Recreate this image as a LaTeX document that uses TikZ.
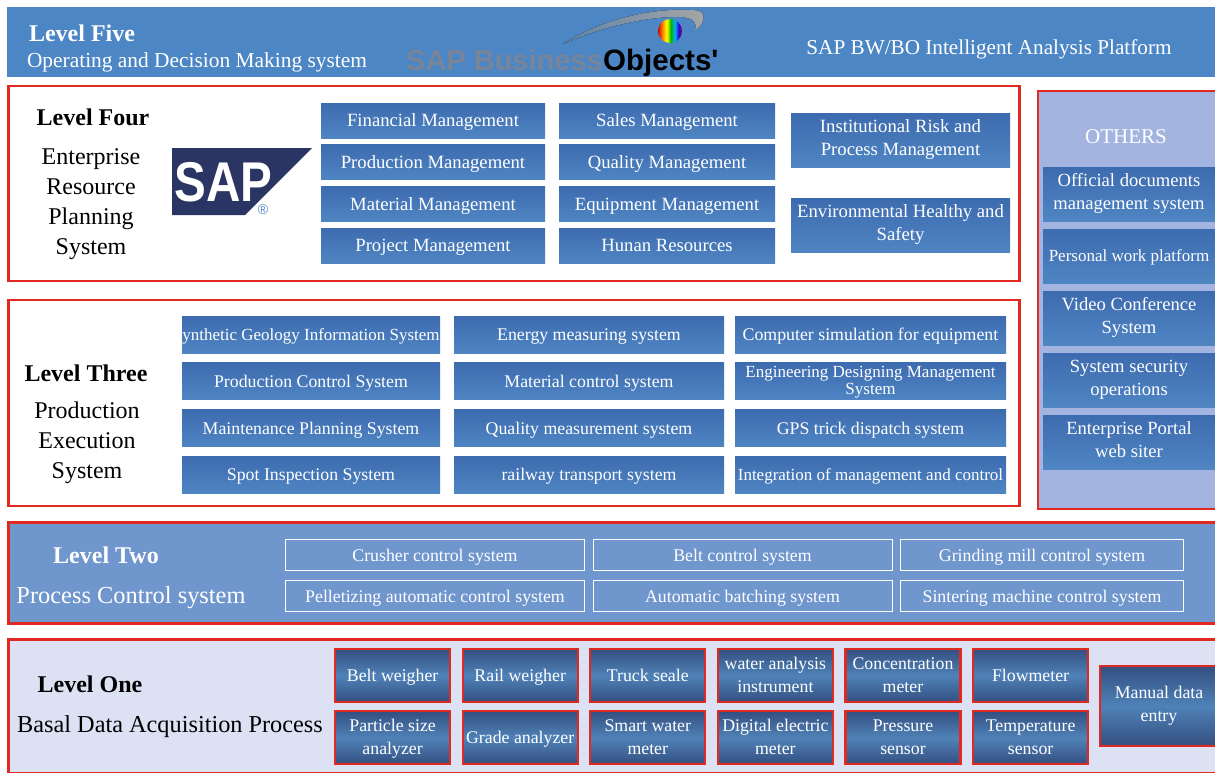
\documentclass[tikz,border=0pt]{standalone}
\usepackage{fontspec}
\setmainfont{Liberation Serif}
\newfontfamily\logofont{Liberation Sans}
\usetikzlibrary{matrix, positioning}
\definecolor{framered}{HTML}{E0291F}
\definecolor{bandblue}{HTML}{4C86C4}
\definecolor{ctrlblue}{HTML}{7096CE}
\definecolor{basepale}{HTML}{DCE1F3}
\definecolor{otherpale}{HTML}{A3B4E0}
\definecolor{boxtop}{HTML}{3D6BAF}
\definecolor{boxbottom}{HTML}{4F85C3}
\definecolor{fieldtop}{HTML}{344F80}
\definecolor{fieldmid}{HTML}{4F82B8}
\definecolor{sapnavy}{HTML}{2B3563}
\definecolor{sapgrey}{HTML}{788499}
\newcommand{\sz}[1]{\fontsize{#1}{23.5}\selectfont}
\newcommand{\twolines}[3][7pt]{\raisebox{0pt}[#1][0pt]{\begin{tabular}{@{}c@{}}#2\\#3\end{tabular}}}
\pgfdeclarehorizontalshading{rainbowball}{100bp}{
  color(0bp)=(red!80!black); color(25bp)=(red!80!black); color(34bp)=(orange);
  color(43bp)=(yellow); color(52bp)=(green!70!black); color(60bp)=(cyan!70!blue);
  color(68bp)=(blue!60!violet); color(75bp)=(violet); color(100bp)=(violet)}
\tikzset{
  %outer frames
  levelframe/.style={
    draw=framered
    , line width=2.8pt
    , anchor=north west
    , outer sep=0pt
    , inner sep=0pt
  },
  %blue boxes of levels three and four
  sysbox/.style={
    top color=boxtop
    , bottom color=boxbottom
    , text=white
    , text depth=0pt
    , anchor=center
    , inner sep=0pt
    , outer sep=0pt
  },
  %white outlined boxes of level two
  ctrlbox/.style={
    draw=white
    , line width=1pt
    , text=white
    , text depth=0pt
    , anchor=center
    , inner sep=0pt
    , outer sep=0pt
    , minimum height=31pt
    , font=\sz{17.8}
  },
  %red outlined boxes of level one
  fieldbox/.style={
    draw=framered
    , line width=2.2pt
    , top color=fieldtop
    , bottom color=fieldtop
    , middle color=fieldmid
    , text=white
    , text depth=0pt
    , anchor=center
    , inner sep=0pt
    , outer sep=0pt
    , minimum width=115pt
    , minimum height=53pt
    , font=\sz{17.8}
  },
  grid/.style={
    matrix of nodes
    , anchor=north west
    , inner sep=0pt
    , outer sep=0pt
    , ampersand replacement=\&
  },
  levelhead/.style={font=\bfseries\sz{24}, inner sep=0pt, align=center},
  levelname/.style={font=\sz{24}, inner sep=0pt, align=center},
}
\begin{document}
\begin{tikzpicture}[x=1pt, y=-1pt]
  \useasboundingbox (0,0) rectangle (1215,772);

  % level five
  \node[fill=bandblue, anchor=north west, inner sep=0pt, outer sep=0pt
        , minimum width=1210pt, minimum height=70pt] (five) at (7,7) {};
  \node[levelhead, text=white] (fivehead) at (82,33) {Level Five};
  \node[levelname, font=\sz{21.4}, text=white] (fivename) at (197,62) {Operating and Decision Making system};
  \node[levelname, font=\sz{21.2}, text=white] (bwbo) at (989,49) {SAP BW/BO Intelligent Analysis Platform};
  \fill[left color=bandblue!60!gray, right color=gray!70!white]
    (563,44) .. controls (600,20) and (650,8) .. (690,10)
    .. controls (700,10) and (705,12) .. (703,20)
    .. controls (702,25) and (699,28) .. (695,30)
    .. controls (698,20) and (690,16) .. (672,17)
    .. controls (640,18) and (600,28) .. (563,44);
  \node[circle, shading=rainbowball, minimum size=24pt, inner sep=0pt] (ball) at (670,31) {};
  \node[font=\logofont\bfseries\sz{29}, text=sapgrey, inner sep=0pt, anchor=base east] (sapbus) at (603,70) {SAP Business};
  \node[font=\logofont\bfseries\sz{29.5}, text=black, inner sep=0pt, anchor=base west] (objects) at (603,70) {Objects'};

  % level four
  \node[levelframe, minimum width=1011pt, minimum height=195pt] (four) at (8.4,86) {};
  \node[levelhead, text=black] (fourhead) at (93,117) {Level Four};
  \node[levelname, text=black, text depth=0pt] (fourname) at (91,202) {Enterprise\\[6.5pt]Resource\\[6.5pt]Planning\\[6.5pt]System};
  \fill[sapnavy] (172,148) -- (312,148) -- (245,215) -- (172,215) -- cycle;
  \node[font=\logofont\bfseries\sz{56}, text=white, inner sep=0pt, xscale=.85, transform shape] (saptext) at (223.5,182) {SAP};
  \node[font=\logofont\sz{14}, text=boxbottom, inner sep=0pt] (sapreg) at (263,210) {®};
  \matrix (erp) [grid
                 , row sep=6.67pt
                 , column sep=14pt
                 , nodes={sysbox, minimum height=35pt, font=\sz{18.7}}
                 , column 1/.style={nodes={minimum width=224pt}}
                 , column 2/.style={nodes={minimum width=216pt}}
                ] at (321,103)
    {
      Financial Management \& Sales Management \\
      Production Management \& Quality Management \\
      Material Management \& Equipment Management \\
      Project Management \& Hunan Resources \\
    }; % matrix
  \matrix (risk) [grid
                  , row sep=31pt
                  , nodes={sysbox, minimum height=54pt, minimum width=219pt, font=\sz{18.7}}
                 ] at (791,113)
    {
      \twolines{Institutional Risk and}{Process Management} \\
      \twolines{Environmental Healthy and}{Safety} \\
    }; % matrix

  % level three
  \node[levelframe, minimum width=1011pt, minimum height=206pt] (three) at (8.4,300) {};
  \node[levelhead, text=black] (threehead) at (86,373) {Level Three};
  \node[levelname, text=black, text depth=0pt] (threename) at (87,440) {Production\\[6.5pt]Execution\\[6.5pt]System};
  \matrix (mes) [grid
                 , row sep=9.67pt
                 , column sep=11pt
                 , nodes={sysbox, minimum height=37pt, font=\sz{17.8}}
                 , column 1/.style={nodes={minimum width=258pt}}
                 , column 2/.style={nodes={minimum width=270pt}}
                 , column 3/.style={nodes={minimum width=271pt}}
                ] at (182,316)
    {
      |[font=\sz{17}]| ynthetic Geology Information System \&[3pt] Energy measuring system \& Computer simulation for equipment \\
      Production Control System \&[3pt] Material control system \& |[font=\fontsize{17}{17}\selectfont]| \twolines[11.5pt]{Engineering Designing Management}{System} \\
      Maintenance Planning System \&[3pt] Quality measurement system \& GPS trick dispatch system \\
      Spot Inspection System \&[3pt] railway transport system \& |[font=\sz{17}]| Integration of management and control \\
    }; % matrix

  % others
  \node[levelframe, fill=otherpale, minimum width=181pt, minimum height=418pt] (others) at (1038,91) {};
  \node[levelname, font=\sz{21}, text=white] (othershead) at (1126,137) {OTHERS};
  \matrix (misc) [grid
                  , row sep=8pt
                  , nodes={sysbox, minimum height=54pt, minimum width=172pt, font=\sz{18.6}}
                 ] at (1043,167)
    {
      \twolines{Official documents}{management system} \\
      |[font=\sz{17}]| Personal work platform \\
      \twolines{Video Conference}{System} \\
      \twolines{System security}{operations} \\
      \twolines{Enterprise Portal}{web siter} \\
    }; % matrix

  % level two
  \node[levelframe, fill=ctrlblue, minimum width=1212pt, minimum height=101pt] (two) at (8.4,522.5) {};
  \node[levelhead, text=white] (twohead) at (106,555) {Level Two};
  \node[levelname, font=\sz{24.4}, text=white] (twoname) at (131,598) {Process Control system};
  \matrix (ctrl) [grid
                  , row sep=9pt
                  , column sep=7.5pt
                  , nodes={ctrlbox}
                  , column 1/.style={nodes={minimum width=299pt}}
                  , column 2/.style={nodes={minimum width=299pt}}
                  , column 3/.style={nodes={minimum width=283pt}}
                 ] at (285,539)
    {
      Crusher control system \& Belt control system \& Grinding mill control system \\
      Pelletizing automatic control system \& Automatic batching system \& Sintering machine control system \\
    }; % matrix

  % level one
  \node[levelframe, fill=basepale, minimum width=1212pt, minimum height=134pt] (one) at (8.4,639.5) {};
  \node[levelhead, text=black] (onehead) at (90,684) {Level One};
  \node[levelname, font=\sz{24.3}, text=black] (onename) at (170,727) {Basal Data Acquisition Process};
  \matrix (field) [grid
                   , row sep=7pt
                   , column sep=10.4pt
                   , nodes={fieldbox}
                  ] at (334,648)
    {
      Belt weigher \& Rail weigher \& Truck seale \& \twolines[10pt]{water analysis}{instrument} \& \twolines[10pt]{Concentration}{meter} \& Flowmeter \\
      \twolines[10pt]{Particle size}{analyzer} \& Grade analyzer \& \twolines[10pt]{Smart water}{meter} \& \twolines[10pt]{Digital electric}{meter} \& \twolines[10pt]{Pressure}{sensor} \& \twolines[10pt]{Temperature}{sensor} \\
    }; % matrix
  \node[fieldbox, minimum width=118pt, minimum height=80pt, anchor=north west] (manual) at (1100,666) {\twolines{Manual data}{entry}};
\end{tikzpicture}
\end{document}
